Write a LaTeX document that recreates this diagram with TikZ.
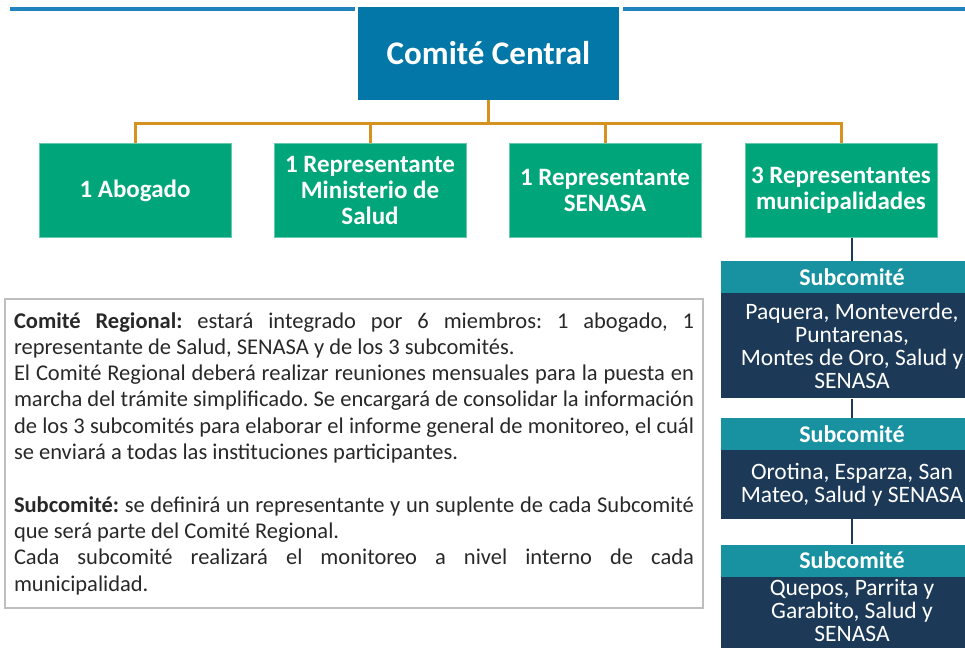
\documentclass[tikz,border=0pt]{standalone}
\usepackage{fontspec}
\setmainfont{Carlito}
\usetikzlibrary{positioning}
\usetikzlibrary{calc}
\definecolor{topblue}{RGB}{32,131,190}
\definecolor{centralblue}{RGB}{2,119,168}
\definecolor{membergreen}{RGB}{0,165,122}
\definecolor{lineorange}{RGB}{214,146,30}
\definecolor{subteal}{RGB}{24,145,160}
\definecolor{subnavy}{RGB}{28,58,88}
\definecolor{infogray}{RGB}{190,190,190}
\definecolor{infotext}{RGB}{40,40,40}
\tikzset{
    central/.style = {rectangle,fill=centralblue,text=white,inner sep=0pt,
        minimum width=261pt,minimum height=93pt,font=\fontsize{33}{38}\selectfont\bfseries},
    member/.style = {rectangle,fill=membergreen,draw=membergreen!60!white,line width=0.6pt,
        text=white,inner sep=0pt,minimum width=192pt,minimum height=94pt,
        align=center,font=\fontsize{25}{26}\selectfont\bfseries},
    subhead/.style = {rectangle,fill=subteal,text=white,inner sep=0pt,
        minimum width=262pt,minimum height=32pt,font=\fontsize{24}{26}\selectfont\bfseries},
    subbody/.style = {rectangle,fill=subnavy,text=white,inner sep=0pt,anchor=north,
        minimum width=262pt,align=center,font=\fontsize{23.5}{23}\selectfont},
    infobox/.style = {rectangle,draw=infogray,line width=1.2pt,text=infotext,inner xsep=9pt,
        minimum width=698pt,minimum height=309pt,text width=680pt,align=justify,
        font=\fontsize{22.5}{26.3}\selectfont\frenchspacing},
    topline/.style = {draw=topblue,line width=3.5pt},
    orgline/.style = {draw=lineorange,line width=3pt},
    subline/.style = {draw=subnavy,line width=2.5pt}}
\begin{document}
\begin{tikzpicture}[x=1pt,y=-1pt]
    \useasboundingbox (0,0) rectangle (965,647);
    \clip (0,0) rectangle (965,647);
    \node[central] (central) at (488.5,53.5) {Comité Central};
    \coordinate (lineL) at (10,9);
    \coordinate (lineR) at (965,9);
    \draw[topline] (lineL) -- ($(central.west |- lineL)+(-3,0)$);
    \draw[topline] ($(central.east |- lineR)+(4,0)$) -- (lineR);
    \node[member] (abogado) at (135,190.5) {1 Abogado};
    \node[member] (salud) at (370,190.5) {1 Representante\\Ministerio de\\Salud};
    \node[member] (senasa) at (605,190.5) {1 Representante\\SENASA};
    \node[member] (municipal) at (841,190.5) {3 Representantes\\municipalidades};
    \coordinate (fork) at ($(central.south)+(0,23)$);
    \draw[orgline] (central.south) -- (fork);
    \draw[orgline] (abogado.north) |- (fork) -| (municipal.north);
    \draw[orgline] (salud.north) -- (salud.north |- fork);
    \draw[orgline] (senasa.north) -- (senasa.north |- fork);
    \node[subhead] (head1) at (852,277) {Subcomité};
    \node[subbody,minimum height=105pt] (body1) at (head1.south)
        {Paquera, Monteverde,\\Puntarenas,\\Montes de Oro, Salud y\\SENASA};
    \node[subhead,below=19pt of body1] (head2) {Subcomité};
    \node[subbody,minimum height=69pt] (body2) at (head2.south)
        {Orotina, Esparza, San\\Mateo, Salud y SENASA};
    \node[subhead,below=25pt of body2] (head3) {Subcomité};
    \node[subbody,minimum height=66pt] (body3) at (head3.south)
        {Quepos, Parrita y\\Garabito, Salud y\\SENASA};
    \draw[subline] (municipal.south -| head1.north) -- (head1.north);
    \draw[subline] (body1.south) -- (head2.north);
    \draw[subline] (body2.south) -- (head3.north);
    \fill[subnavy] (body3.south west) rectangle ($(body3.south east)+(0,8)$);
    \node[infobox] (info) at (354,453.5) {%
        \textbf{Comité Regional:} estará integrado por 6 miembros: 1 abogado, 1\linebreak
        representante de Salud, SENASA y de los 3 subcomités.\par
        El Comité Regional deberá realizar reuniones mensuales para la puesta en\linebreak
        marcha del trámite simplificado. Se encargará de consolidar la información\linebreak
        de los 3 subcomités para elaborar el informe general de monitoreo, el cuál\linebreak
        se enviará a todas las instituciones participantes.\par
        \vspace{26.3pt}
        \textbf{Subcomité:} se definirá un representante y un suplente de cada Subcomité\linebreak
        que será parte del Comité Regional.\par
        Cada subcomité realizará el monitoreo a nivel interno de cada\linebreak
        municipalidad.};
\end{tikzpicture}
\end{document}
